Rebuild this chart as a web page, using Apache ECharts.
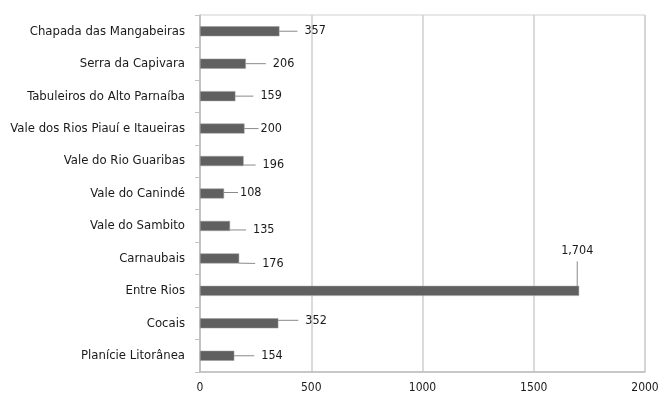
<!DOCTYPE html>
<html>
<head>
<meta charset="utf-8">
<script src="https://cdn.jsdelivr.net/npm/echarts@6/dist/echarts.min.js"></script>
<style>
  html, body { margin: 0; padding: 0; background: #fff; }
  #chart { width: 660px; height: 393px; }
</style>
</head>
<body>
<div id="chart"></div>
<script>
// Territories of development, listed top to bottom
const territories = [
  'Chapada das Mangabeiras',
  'Serra da Capivara',
  'Tabuleiros do Alto Parnaíba',
  'Vale dos Rios Piauí e Itaueiras',
  'Vale do Rio Guaribas',
  'Vale do Canindé',
  'Vale do Sambito',
  'Carnaubais',
  'Entre Rios',
  'Cocais',
  'Planície Litorânea'
];
const values = [357, 206, 159, 200, 196, 108, 135, 176, 1704, 352, 154];
const xTicks = [0, 500, 1000, 1500, 2000];

// Callout offsets for each value label (pixels from the default position)
const labelShift = [
  [14, 0], [16, 0], [14, 0], [10, 0], [8, 4], [10, -1],
  [12, 4], [12, 5], [-22, -40], [16, -3], [16, 0]
];
// Gap left between a callout line and its label text
const labelGap = [7, 7, 7, 2, 7, 2, 7, 7, 0, 7, 7];
// Index of the label that sits above its bar instead of beside it
const raisedLabel = 8;

const FONT = '"DejaVu Sans Condensed", "Liberation Sans", sans-serif';

const chart = echarts.init(document.getElementById('chart'), null, { renderer: 'canvas' });

const barData = values.map((v, i) => ({
  value: v,
  label: { padding: i === raisedLabel ? [0, 0, 8, 0] : [0, 0, 0, labelGap[i]] }
}));

chart.setOption({
  animation: false,
  grid: {
    left: 200, right: 15, top: 15, bottom: 21,
    outerBoundsMode: 'none',
    containLabel: false,
    show: true, borderColor: '#cfcfcf', borderWidth: 1
  },
  xAxis: {
    type: 'value',
    min: xTicks[0],
    max: xTicks[xTicks.length - 1],
    interval: 500,
    axisLine: { show: true, lineStyle: { color: '#bdbdbd', width: 1.5 } },
    axisTick: { show: false },
    splitLine: { show: true, lineStyle: { color: '#cfcfcf', width: 1.5 } },
    axisLabel: {
      color: '#1a1a1a', fontSize: 12, fontFamily: FONT, margin: 10,
      formatter: v => String(v)
    }
  },
  yAxis: {
    type: 'category',
    inverse: true,
    data: territories,
    axisLine: { show: true, lineStyle: { color: '#bdbdbd', width: 1.5 } },
    axisTick: { show: true, length: 5, lineStyle: { color: '#c4c4c4' } },
    axisLabel: { color: '#1a1a1a', fontSize: 13, fontFamily: FONT, margin: 15 }
  },
  series: [{
    type: 'bar',
    data: barData,
    barWidth: 10,
    itemStyle: { color: '#606060', borderColor: '#9a9a9a', borderWidth: 0.5 },
    label: {
      show: true,
      position: 'right',
      distance: 4,
      backgroundColor: 'rgba(255,255,255,0)',
      color: '#1a1a1a',
      fontSize: 12.5,
      fontFamily: FONT,
      formatter: p => p.value.toLocaleString('en-US')
    },
    labelLine: {
      show: true,
      lineStyle: { color: '#8a8a8a', width: 1 }
    },
    labelLayout: function (p) {
      const s = labelShift[p.dataIndex];
      return { dx: s[0], dy: s[1] };
    }
  }]
});
</script>
</body>
</html>
